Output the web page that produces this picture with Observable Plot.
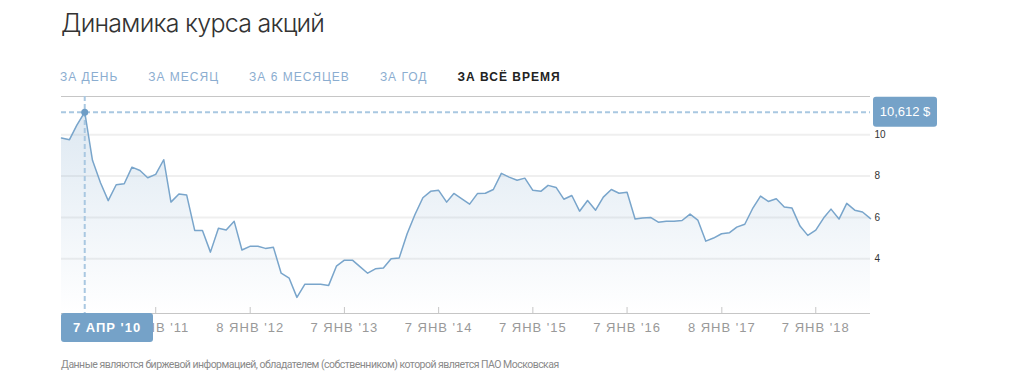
<!DOCTYPE html>
<html><head><meta charset="utf-8">
<script src="https://cdn.jsdelivr.net/npm/d3@7"></script>
<script src="https://cdn.jsdelivr.net/npm/@observablehq/plot@0.6"></script>
<style>
html,body{margin:0;padding:0;background:#fff;width:1010px;height:381px;overflow:hidden;position:relative}
#title{position:absolute;left:61px;top:10.5px;font-family:Inter,sans-serif;font-weight:300;font-size:25px;line-height:25px;letter-spacing:-0.75px;color:#333;white-space:nowrap}
#tabs{position:absolute;left:60px;top:71px;font-family:"Liberation Sans",Arial,sans-serif;font-size:12px;line-height:12px;letter-spacing:1px;white-space:nowrap}
#tabs span{display:inline-block;margin-right:30px;color:#8badd0}
#tabs span.active{color:#222;font-weight:bold}
#chart{position:absolute;left:0;top:88px}
#footer{position:absolute;left:61px;top:359.5px;font-family:Roboto,sans-serif;font-size:10.5px;line-height:10.5px;letter-spacing:-0.52px;color:#8a8a8a;white-space:nowrap}
#chart svg [aria-label="x-axis tick label"] text{letter-spacing:1px}
</style>
</head><body>
<div id="title"></div>
<div id="tabs"></div>
<div id="chart"></div>
<div id="footer"></div>
<script>
const titleText = "Динамика курса акций";
const tabLabels = ["ЗА ДЕНЬ", "ЗА МЕСЯЦ", "ЗА 6 МЕСЯЦЕВ", "ЗА ГОД", "ЗА ВСЁ ВРЕМЯ"];
const activeTab = "ЗА ВСЁ ВРЕМЯ";
const footerText = "Данные являются биржевой информацией, обладателем (собственником) которой является ПАО Московская";

// monthly values (7th of each month)
const years = [2010, 2011, 2012, 2013, 2014, 2015, 2016, 2017, 2018];
const v2010 = [9.84, 9.76, 10.45, 11.09, 8.76, 7.68, 6.81, 7.58, 7.63, 8.43, 8.27, 7.92];
const v2011 = [8.08, 8.79, 6.74, 7.13, 7.08, 5.37, 5.37, 4.32, 5.47, 5.39, 5.81, 4.42];
const v2012 = [4.60, 4.60, 4.50, 4.55, 3.30, 3.06, 2.13, 2.77, 2.77, 2.76, 2.71, 3.64];
const v2013 = [3.93, 3.93, 3.63, 3.30, 3.51, 3.55, 4.00, 4.03, 5.21, 6.13, 6.95, 7.26];
const v2014 = [7.31, 6.74, 7.16, 6.90, 6.64, 7.16, 7.17, 7.35, 8.13, 7.95, 7.80, 7.90];
const v2015 = [7.31, 7.26, 7.55, 7.45, 6.88, 7.06, 6.30, 6.82, 6.35, 6.98, 7.35, 7.17];
const v2016 = [7.22, 5.92, 5.97, 6.00, 5.77, 5.81, 5.81, 5.85, 6.16, 5.87, 4.85, 5.00];
const v2017 = [5.21, 5.26, 5.53, 5.67, 6.42, 7.03, 6.77, 6.90, 6.50, 6.45, 5.58, 5.13];
const v2018 = [5.38, 5.98, 6.40, 5.92, 6.68, 6.35, 6.26, 5.94];
const seriesByYear = [v2010, v2011, v2012, v2013, v2014, v2015, v2016, v2017, v2018];

const tickDates = ["2011-01-07", "2012-01-08", "2013-01-07", "2014-01-07", "2015-01-07", "2016-01-07", "2017-01-08", "2018-01-07"];
const tickLabels = ["7 ЯНВ '11", "8 ЯНВ '12", "7 ЯНВ '13", "7 ЯНВ '14", "7 ЯНВ '15", "7 ЯНВ '16", "8 ЯНВ '17", "7 ЯНВ '18"];
const yTicks = [4, 6, 8, 10];
const yDomain = [1.35, 11.85];
const xDomain = ["2010-01-07", "2018-08-07"];
const peakPriceLabel = "10,612 $";
const peakDateLabel = "7 АПР '10";

// page text
document.getElementById("title").textContent = titleText;
document.getElementById("footer").textContent = footerText;
const tabsEl = document.getElementById("tabs");
tabLabels.forEach(t => {
  const s = document.createElement("span");
  s.textContent = t;
  if (t === activeTab) s.className = "active";
  tabsEl.appendChild(s);
});

const data = [];
seriesByYear.forEach((vals, yi) => vals.forEach((v, m) => data.push({date: new Date(Date.UTC(years[yi], m, 7)), value: v})));
const peak = data.reduce((a, b) => (b.value > a.value ? b : a));
const tickDateObjs = tickDates.map(d => new Date(d));
const labelByTime = new Map(tickDateObjs.map((d, i) => [+d, tickLabels[i]]));

const W = 1010, H = 257, mT = 8, mB = 32, mL = 61, mR = 140;
const ns = "http://www.w3.org/2000/svg";
const lineColor = "#79a5cb";
const boxColor = "#75a2c8";
const crossColor = "#a9c8e1";

function el(tag, attrs, text) {
  const e = document.createElementNS(ns, tag);
  for (const k in attrs) e.setAttribute(k, attrs[k]);
  if (text != null) e.textContent = text;
  return e;
}

function gradientDefs() {
  const defs = el("defs", {});
  const lg = el("linearGradient", {id: "areaGrad", x1: 0, y1: 0, x2: 0, y2: 1});
  lg.appendChild(el("stop", {offset: "0%", "stop-color": "#73a0c8", "stop-opacity": 0.24}));
  lg.appendChild(el("stop", {offset: "100%", "stop-color": "#73a0c8", "stop-opacity": 0.0}));
  defs.appendChild(lg);
  return defs;
}

function crosshairLabels(index, scales, values, dims) {
  const g = el("g", {});
  const px = scales.x(peak.date), py = scales.y(peak.value);
  const right = dims.width - dims.marginRight;
  const bottom = dims.height - dims.marginBottom;
  // price label box on the right
  const bw = 64, bh = 30;
  g.appendChild(el("rect", {x: right + 3, y: py - bh / 2, width: bw, height: bh, rx: 3, fill: boxColor}));
  g.appendChild(el("text", {x: right + 3 + bw / 2, y: py, "text-anchor": "middle", dy: "0.35em", fill: "#fff",
    "font-family": "Liberation Sans, Arial, sans-serif", "font-size": 13}, peakPriceLabel));
  // date label box on the bottom
  const dw = 92, dh = 29;
  const dx = Math.max(dims.marginLeft, px - dw / 2);
  g.appendChild(el("rect", {x: dx, y: bottom, width: dw, height: dh, rx: 3, fill: boxColor}));
  g.appendChild(el("text", {x: dx + dw / 2, y: bottom + dh / 2, "text-anchor": "middle", dy: "0.35em", fill: "#fff",
    "font-family": "Liberation Sans, Arial, sans-serif", "font-size": 13, "font-weight": "bold", "letter-spacing": 1}, peakDateLabel));
  return g;
}

const chart = Plot.plot({
  width: W, height: H,
  marginTop: mT, marginBottom: mB, marginLeft: mL, marginRight: mR,
  style: {fontFamily: "Liberation Sans, Arial, sans-serif", background: "transparent", overflow: "visible"},
  x: {type: "utc", domain: xDomain.map(d => new Date(d))},
  y: {domain: yDomain},
  marks: [
    gradientDefs,
    Plot.gridY(yTicks, {stroke: "#efefef", strokeOpacity: 1, strokeWidth: 2}),
    Plot.areaY(data, {x: "date", y1: yDomain[0], y2: "value", fill: "url(#areaGrad)"}),
    Plot.ruleY([yDomain[1]], {stroke: "#c6c6c6"}),
    Plot.ruleY([yDomain[0]], {stroke: "#c6c6c6"}),
    Plot.tickX(tickDateObjs, {x: d => d, stroke: "#c6c6c6", insetTop: H - mT - mB - 6}),
    Plot.ruleX([peak], {x: "date", stroke: crossColor, strokeWidth: 2, strokeDasharray: "5,3"}),
    Plot.ruleY([peak], {y: "value", stroke: crossColor, strokeWidth: 2, strokeDasharray: "5,3"}),
    Plot.lineY(data, {x: "date", y: "value", stroke: lineColor, strokeWidth: 1.5}),
    Plot.dot([peak], {x: "date", y: "value", r: 3.5, fill: "#6e9dc6"}),
    Plot.axisX({ticks: tickDateObjs, tickFormat: d => labelByTime.get(+d), tickSize: 0, tickPadding: 9, fontSize: 13, fill: "#999", label: null}),
    Plot.axisY({anchor: "right", ticks: yTicks, tickSize: 0, tickPadding: 4, fontSize: 10, fill: "#333", textAnchor: "start", label: null}),
    crosshairLabels
  ]
});
document.getElementById("chart").appendChild(chart);
</script>
</body></html>
